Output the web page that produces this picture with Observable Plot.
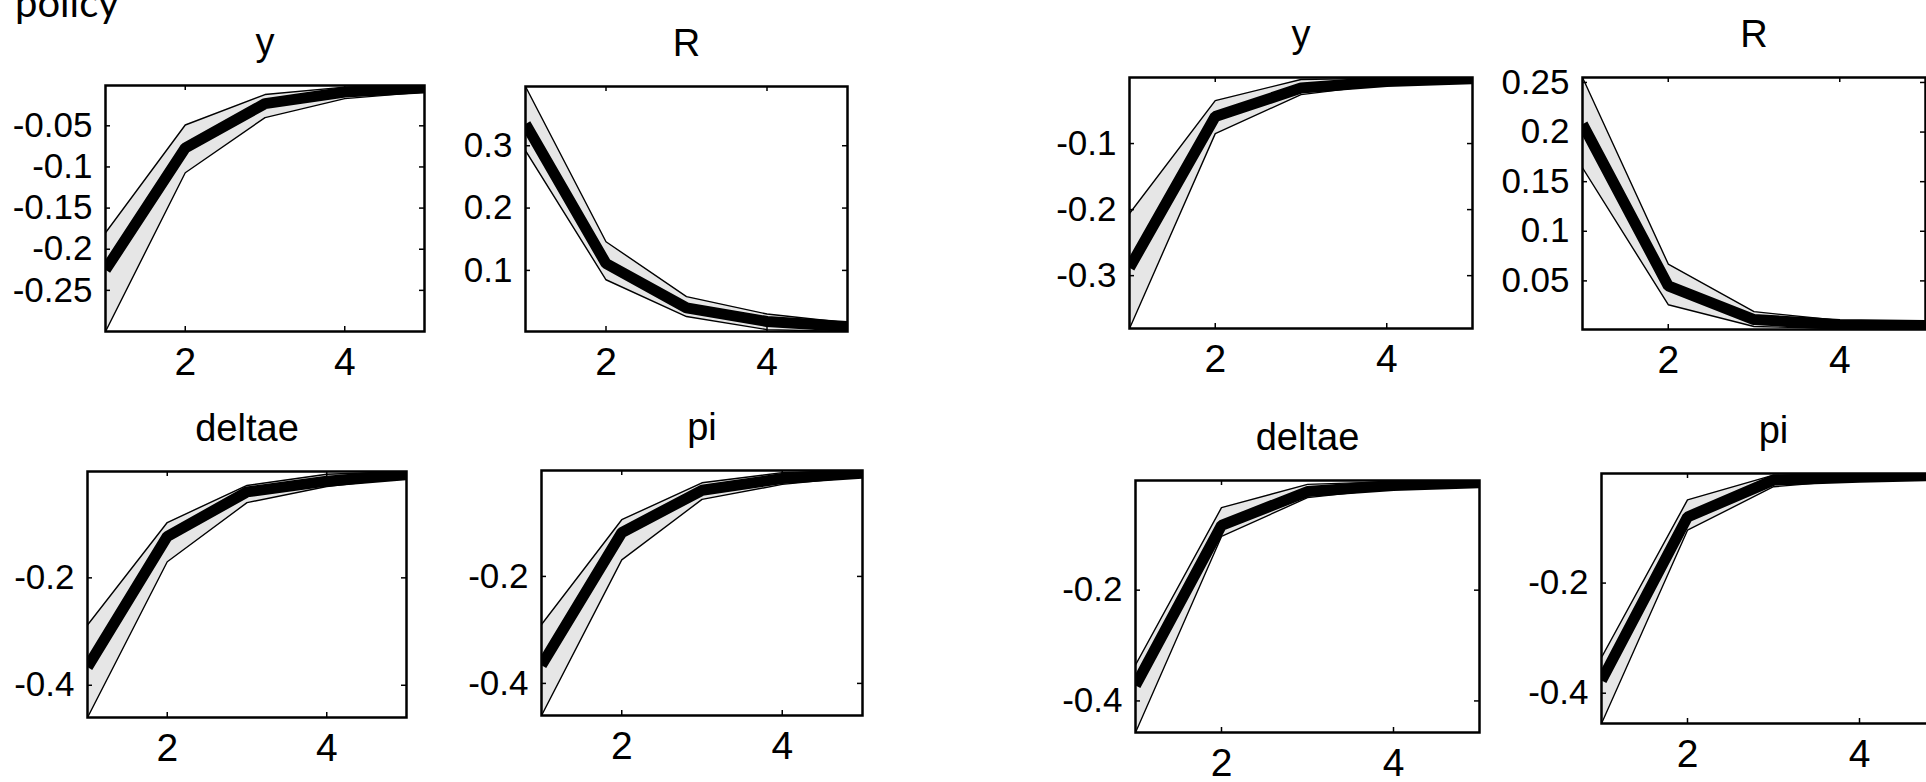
<!DOCTYPE html>
<html>
<head>
<meta charset="utf-8">
<script src="https://cdn.jsdelivr.net/npm/d3@7"></script>
<script src="https://cdn.jsdelivr.net/npm/@observablehq/plot@0.6"></script>
<style>
  html, body { margin: 0; padding: 0; background: #fff; }
  #fig { position: relative; width: 1926px; height: 782px; overflow: hidden; background: #fff; }
  #fig svg { position: absolute; }
  .heading { position: absolute; left: 15px; top: -18px; font-family: Lato, "Open Sans", sans-serif;
             font-size: 40px; line-height: 1; color: #000; white-space: nowrap; }
</style>
</head>
<body>
<div id="fig"><div class="heading">policy</div></div>
<script>
// Impulse responses over a 5-period horizon: median with lower/upper bands.
const horizon = [1, 2, 3, 4, 5];
const xTicks = [2, 4];
const titles = ["y", "R", "deltae", "pi"];

// Left block
const yA_median = [-0.225, -0.077, -0.023, -0.009, -0.004];
const yA_lower  = [-0.300, -0.107, -0.040, -0.017, -0.009];
const yA_upper  = [-0.180, -0.049, -0.012, -0.003, -0.001];
const yA_ticks  = [-0.25, -0.2, -0.15, -0.1, -0.05];

const RA_median = [0.335, 0.111, 0.040, 0.018, 0.010];
const RA_lower  = [0.292, 0.085, 0.026, 0.005, 0.002];
const RA_upper  = [0.395, 0.146, 0.058, 0.030, 0.016];
const RA_ticks  = [0.1, 0.2, 0.3];

const deltaeA_median = [-0.366, -0.123, -0.040, -0.020, -0.008];
const deltaeA_lower  = [-0.460, -0.170, -0.060, -0.030, -0.013];
const deltaeA_upper  = [-0.288, -0.097, -0.028, -0.007, -0.002];
const deltaeA_ticks  = [-0.4, -0.2];

const piA_median = [-0.366, -0.118, -0.039, -0.017, -0.007];
const piA_lower  = [-0.460, -0.169, -0.056, -0.028, -0.013];
const piA_upper  = [-0.290, -0.094, -0.025, -0.006, -0.002];
const piA_ticks  = [-0.4, -0.2];

// Right block
const yB_median = [-0.288, -0.059, -0.016, -0.006, -0.002];
const yB_lower  = [-0.380, -0.085, -0.026, -0.010, -0.004];
const yB_upper  = [-0.206, -0.035, -0.003, -0.001, 0.000];
const yB_ticks  = [-0.3, -0.2, -0.1];

const RB_median = [0.208, 0.045, 0.011, 0.006, 0.005];
const RB_lower  = [0.164, 0.026, 0.004, 0.002, 0.001];
const RB_upper  = [0.255, 0.067, 0.019, 0.010, 0.009];
const RB_ticks  = [0.05, 0.1, 0.15, 0.2, 0.25];

const deltaeB_median = [-0.372, -0.083, -0.022, -0.011, -0.006];
const deltaeB_lower  = [-0.457, -0.103, -0.033, -0.016, -0.009];
const deltaeB_upper  = [-0.335, -0.051, -0.009, -0.004, -0.002];
const deltaeB_ticks  = [-0.4, -0.2];

const piB_median = [-0.377, -0.080, -0.013, -0.008, -0.004];
const piB_lower  = [-0.455, -0.104, -0.025, -0.012, -0.007];
const piB_upper  = [-0.335, -0.049, -0.004, -0.002, -0.001];
const piB_ticks  = [-0.4, -0.2];

// Panel frames on the page: [left, top, right, bottom] in px
const panels = [
  {title: titles[0], med: yA_median, lo: yA_lower, hi: yA_upper, ticks: yA_ticks, box: [105, 85, 424, 331]},
  {title: titles[1], med: RA_median, lo: RA_lower, hi: RA_upper, ticks: RA_ticks, box: [525, 86, 847, 331]},
  {title: titles[2], med: deltaeA_median, lo: deltaeA_lower, hi: deltaeA_upper, ticks: deltaeA_ticks, box: [87, 471, 406, 717]},
  {title: titles[3], med: piA_median, lo: piA_lower, hi: piA_upper, ticks: piA_ticks, box: [541, 470, 862, 715]},
  {title: titles[0], med: yB_median, lo: yB_lower, hi: yB_upper, ticks: yB_ticks, box: [1129, 77, 1472, 328]},
  {title: titles[1], med: RB_median, lo: RB_lower, hi: RB_upper, ticks: RB_ticks, box: [1582, 77, 1925, 329]},
  {title: titles[2], med: deltaeB_median, lo: deltaeB_lower, hi: deltaeB_upper, ticks: deltaeB_ticks, box: [1135, 480, 1479, 732]},
  {title: titles[3], med: piB_median, lo: piB_lower, hi: piB_upper, ticks: piB_ticks, box: [1601, 473, 1945, 723]}
];

const fig = document.getElementById("fig");
const M = {top: 70, right: 12, bottom: 60, left: 130};
const tickLen = 5;

function drawPanel(p) {
  const [x0, y0, x1, y1] = p.box;
  const fw = x1 - x0, fh = y1 - y0;
  const rows = horizon.map((h, i) => ({h, med: p.med[i], lo: p.lo[i], hi: p.hi[i]}));
  const yDomain = [d3.min(p.lo), d3.max(p.hi)];
  const svg = Plot.plot({
    width: fw + M.left + M.right,
    height: fh + M.top + M.bottom,
    marginTop: M.top, marginRight: M.right, marginBottom: M.bottom, marginLeft: M.left,
    x: {domain: [1, 5]},
    y: {domain: yDomain},
    style: {background: "transparent", maxWidth: "none", overflow: "visible",
            fontFamily: "'Liberation Sans', Arial, Helvetica, sans-serif", color: "#000"},
    marks: [
      Plot.areaY(rows, {x: "h", y1: "lo", y2: "hi", fill: "#e6e6e6", clip: true}),
      Plot.line(rows, {x: "h", y: "hi", stroke: "#000", strokeWidth: 1.4, strokeLinejoin: "miter", clip: true}),
      Plot.line(rows, {x: "h", y: "lo", stroke: "#000", strokeWidth: 1.4, strokeLinejoin: "miter", clip: true}),
      Plot.line(rows, {x: "h", y: "med", stroke: "#000", strokeWidth: 11, strokeLinejoin: "miter", strokeLinecap: "butt", clip: true}),
      // inward tick marks on all four sides
      Plot.tickY(p.ticks, {y: d => d, insetRight: fw - tickLen, stroke: "#000", strokeWidth: 1.5}),
      Plot.tickY(p.ticks, {y: d => d, insetLeft: fw - tickLen, stroke: "#000", strokeWidth: 1.5}),
      Plot.tickX(xTicks, {x: d => d, insetBottom: fh - tickLen, stroke: "#000", strokeWidth: 1.5}),
      Plot.tickX(xTicks, {x: d => d, insetTop: fh - tickLen, stroke: "#000", strokeWidth: 1.5}),
      Plot.frame({stroke: "#000", strokeWidth: 2.5}),
      Plot.axisY(p.ticks, {tickSize: 0, tickPadding: 13, fontSize: 35, tickFormat: d => String(d), label: null}),
      Plot.axisX(xTicks, {tickSize: 0, tickPadding: 16, fontSize: 39, tickFormat: d => String(d), label: null}),
      Plot.text([p.title], {frameAnchor: "top", dy: -31, lineAnchor: "bottom", fontSize: 38, text: d => d, fill: "#000"})
    ]
  });
  svg.style.left = (x0 - M.left) + "px";
  svg.style.top = (y0 - M.top) + "px";
  fig.appendChild(svg);
}

panels.forEach(drawPanel);
</script>
</body>
</html>
